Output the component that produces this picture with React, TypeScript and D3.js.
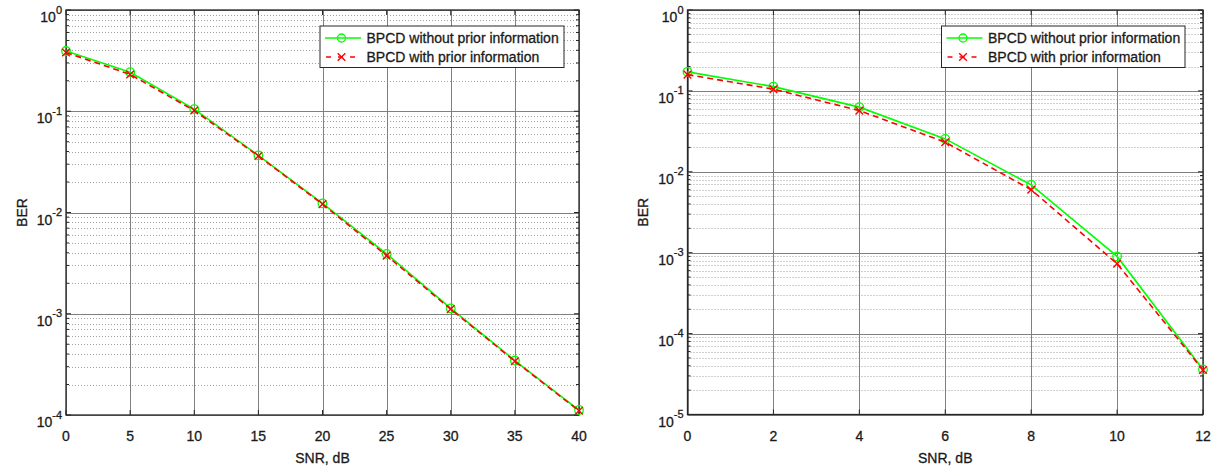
import React from "react";
import * as d3 from "d3";

// ---------- data ----------
const leftSNR = [0, 5, 10, 15, 20, 25, 30, 35, 40];
const leftWithout = [0.393, 0.243, 0.105, 0.0367, 0.0123, 0.0039, 0.00113, 0.000345, 0.000112];
const leftWith = [0.381, 0.231, 0.1016, 0.0362, 0.0121, 0.00375, 0.00111, 0.00034, 0.00011];
const leftXTicks = [0, 5, 10, 15, 20, 25, 30, 35, 40];
const leftYExps = [0, -1, -2, -3, -4];

const rightSNR = [0, 2, 4, 6, 8, 10, 12];
const rightWithout = [0.172, 0.113, 0.063, 0.0255, 0.0069, 0.0009, 0.000036];
const rightWith = [0.159, 0.105, 0.0571, 0.0232, 0.006, 0.00073, 0.0000355];
const rightXTicks = [0, 2, 4, 6, 8, 10, 12];
const rightYExps = [0, -1, -2, -3, -4, -5];

const legendLabels = ["BPCD without prior information", "BPCD with prior information"];
const xLabel = "SNR, dB";
const yLabel = "BER";

const FONT = "'Liberation Sans', Arial, Helvetica, sans-serif";
const GREEN = "#00ff00";
const RED = "#ff0000";
const AXIS = "#262626";
const TXT = "#1a1a1a";

type PanelProps = {
  box: { left: number; right: number; top: number; bottom: number };
  xs: number[];
  without: number[];
  withPrior: number[];
  xTicks: number[];
  yExps: number[];
  legendBox: { x: number; y: number; w: number; h: number };
  yLabelX: number;
};

function XMark({ x, y, s, color }: { x: number; y: number; s: number; color: string }) {
  return (
    <g stroke={color} strokeWidth={1.4}>
      <line x1={x - s} y1={y - s} x2={x + s} y2={y + s} />
      <line x1={x - s} y1={y + s} x2={x + s} y2={y - s} />
    </g>
  );
}

function Panel({ box, xs, without, withPrior, xTicks, yExps, legendBox, yLabelX }: PanelProps) {
  const xScale = d3
    .scaleLinear()
    .domain([xTicks[0], xTicks[xTicks.length - 1]])
    .range([box.left, box.right]);
  const maxE = d3.max(yExps)!;
  const minE = d3.min(yExps)!;
  const yScale = d3
    .scaleLog()
    .domain([Math.pow(10, minE), Math.pow(10, maxE)])
    .range([box.bottom, box.top]);

  const minors: number[] = [];
  for (let e = minE; e < maxE; e++) {
    for (let m = 2; m <= 9; m++) minors.push(m * Math.pow(10, e));
  }

  const line = d3
    .line<number>()
    .x((_, i) => xScale(xs[i]))
    .y((d) => yScale(d));

  const lx = legendBox.x;
  const ly = legendBox.y;
  const row1 = ly + 12;
  const row2 = ly + 31;
  const textProps = { fill: TXT, stroke: TXT, strokeWidth: 0.3, fontSize: 14 };

  return (
    <g fontFamily={FONT}>
      {/* minor grid */}
      {minors.map((v, i) => (
        <line
          key={"mg" + i}
          x1={box.left}
          x2={box.right}
          y1={Math.round(yScale(v)) + 0.5}
          y2={Math.round(yScale(v)) + 0.5}
          stroke="#a0a0a0"
          strokeWidth={1}
          strokeDasharray="1,2"
        />
      ))}
      {/* major grid */}
      {yExps.map((e) => (
        <line
          key={"yg" + e}
          x1={box.left}
          x2={box.right}
          y1={Math.round(yScale(Math.pow(10, e))) + 0.5}
          y2={Math.round(yScale(Math.pow(10, e))) + 0.5}
          stroke="#808080"
          strokeWidth={1}
        />
      ))}
      {xTicks.map((t) => (
        <line
          key={"xg" + t}
          x1={Math.round(xScale(t)) + 0.5}
          x2={Math.round(xScale(t)) + 0.5}
          y1={box.top}
          y2={box.bottom}
          stroke="#808080"
          strokeWidth={1}
        />
      ))}
      {/* ticks */}
      {xTicks.map((t) => (
        <g key={"xt" + t} stroke={AXIS} strokeWidth={1}>
          <line x1={xScale(t)} x2={xScale(t)} y1={box.bottom} y2={box.bottom - 5} />
          <line x1={xScale(t)} x2={xScale(t)} y1={box.top} y2={box.top + 5} />
        </g>
      ))}
      {yExps.map((e) => (
        <g key={"yt" + e} stroke={AXIS} strokeWidth={1}>
          <line x1={box.left} x2={box.left + 5} y1={yScale(Math.pow(10, e))} y2={yScale(Math.pow(10, e))} />
          <line x1={box.right} x2={box.right - 5} y1={yScale(Math.pow(10, e))} y2={yScale(Math.pow(10, e))} />
        </g>
      ))}
      {minors.map((v, i) => (
        <g key={"ymt" + i} stroke={AXIS} strokeWidth={1}>
          <line x1={box.left} x2={box.left + 3} y1={yScale(v)} y2={yScale(v)} />
          <line x1={box.right} x2={box.right - 3} y1={yScale(v)} y2={yScale(v)} />
        </g>
      ))}
      {/* box */}
      <rect
        x={box.left}
        y={box.top}
        width={box.right - box.left}
        height={box.bottom - box.top}
        fill="none"
        stroke={AXIS}
        strokeWidth={1.3}
      />
      {/* tick labels */}
      {xTicks.map((t) => (
        <text key={"xl" + t} x={xScale(t)} y={box.bottom + 26} textAnchor="middle" {...textProps}>
          {t}
        </text>
      ))}
      {yExps.map((e) => (
        <text key={"yl" + e} x={box.left - 4} y={yScale(Math.pow(10, e)) + 12} textAnchor="end" {...textProps}>
          <tspan>10</tspan>
          <tspan dy={-8.5} fontSize={11}>
            {e}
          </tspan>
        </text>
      ))}
      {/* axis labels */}
      <text x={(box.left + box.right) / 2} y={box.bottom + 48} textAnchor="middle" {...textProps}>
        {xLabel}
      </text>
      <text
        transform={`translate(${yLabelX},${(box.top + box.bottom) / 2}) rotate(-90)`}
        textAnchor="middle"
        {...textProps}
      >
        {yLabel}
      </text>
      {/* series: without prior */}
      <path d={line(without) || ""} fill="none" stroke={GREEN} strokeWidth={1.6} />
      {without.map((v, i) => (
        <circle key={"c" + i} cx={xScale(xs[i])} cy={yScale(v)} r={4.3} fill="none" stroke={GREEN} strokeWidth={1.3} />
      ))}
      {/* series: with prior */}
      <path d={line(withPrior) || ""} fill="none" stroke={RED} strokeWidth={1.6} strokeDasharray="6,4" />
      {withPrior.map((v, i) => (
        <XMark key={"x" + i} x={xScale(xs[i])} y={yScale(v)} s={3.8} color={RED} />
      ))}
      {/* legend */}
      <rect x={lx} y={ly} width={legendBox.w} height={legendBox.h} fill="#ffffff" stroke={AXIS} strokeWidth={1} />
      <line x1={lx + 5} x2={lx + 41} y1={row1} y2={row1} stroke={GREEN} strokeWidth={1.6} />
      <circle cx={lx + 21.5} cy={row1} r={4} fill="none" stroke={GREEN} strokeWidth={1.3} />
      <line
        x1={lx + 5}
        x2={lx + 41}
        y1={row2}
        y2={row2}
        stroke={RED}
        strokeWidth={1.6}
        strokeDasharray="5,7"
        strokeDashoffset={-1}
      />
      <XMark x={lx + 21.5} y={row2} s={3.8} color={RED} />
      <text x={lx + 46.5} y={row1 + 5.3} {...textProps}>
        {legendLabels[0]}
      </text>
      <text x={lx + 46.5} y={row2 + 5.3} {...textProps}>
        {legendLabels[1]}
      </text>
    </g>
  );
}

export default function App() {
  return (
    <svg width={1224} height={470} style={{ position: "absolute", left: 0, top: 0, background: "#ffffff" }}>
      <rect x={0} y={0} width={1224} height={470} fill="#ffffff" />
      <Panel
        box={{ left: 66, right: 579, top: 10, bottom: 415 }}
        xs={leftSNR}
        without={leftWithout}
        withPrior={leftWith}
        xTicks={leftXTicks}
        yExps={leftYExps}
        legendBox={{ x: 320, y: 26, w: 244, h: 41.5 }}
        yLabelX={27}
      />
      <Panel
        box={{ left: 687.5, right: 1203, top: 10, bottom: 414.5 }}
        xs={rightSNR}
        without={rightWithout}
        withPrior={rightWith}
        xTicks={rightXTicks}
        yExps={rightYExps}
        legendBox={{ x: 941.5, y: 26, w: 243.5, h: 41.5 }}
        yLabelX={648}
      />
    </svg>
  );
}
